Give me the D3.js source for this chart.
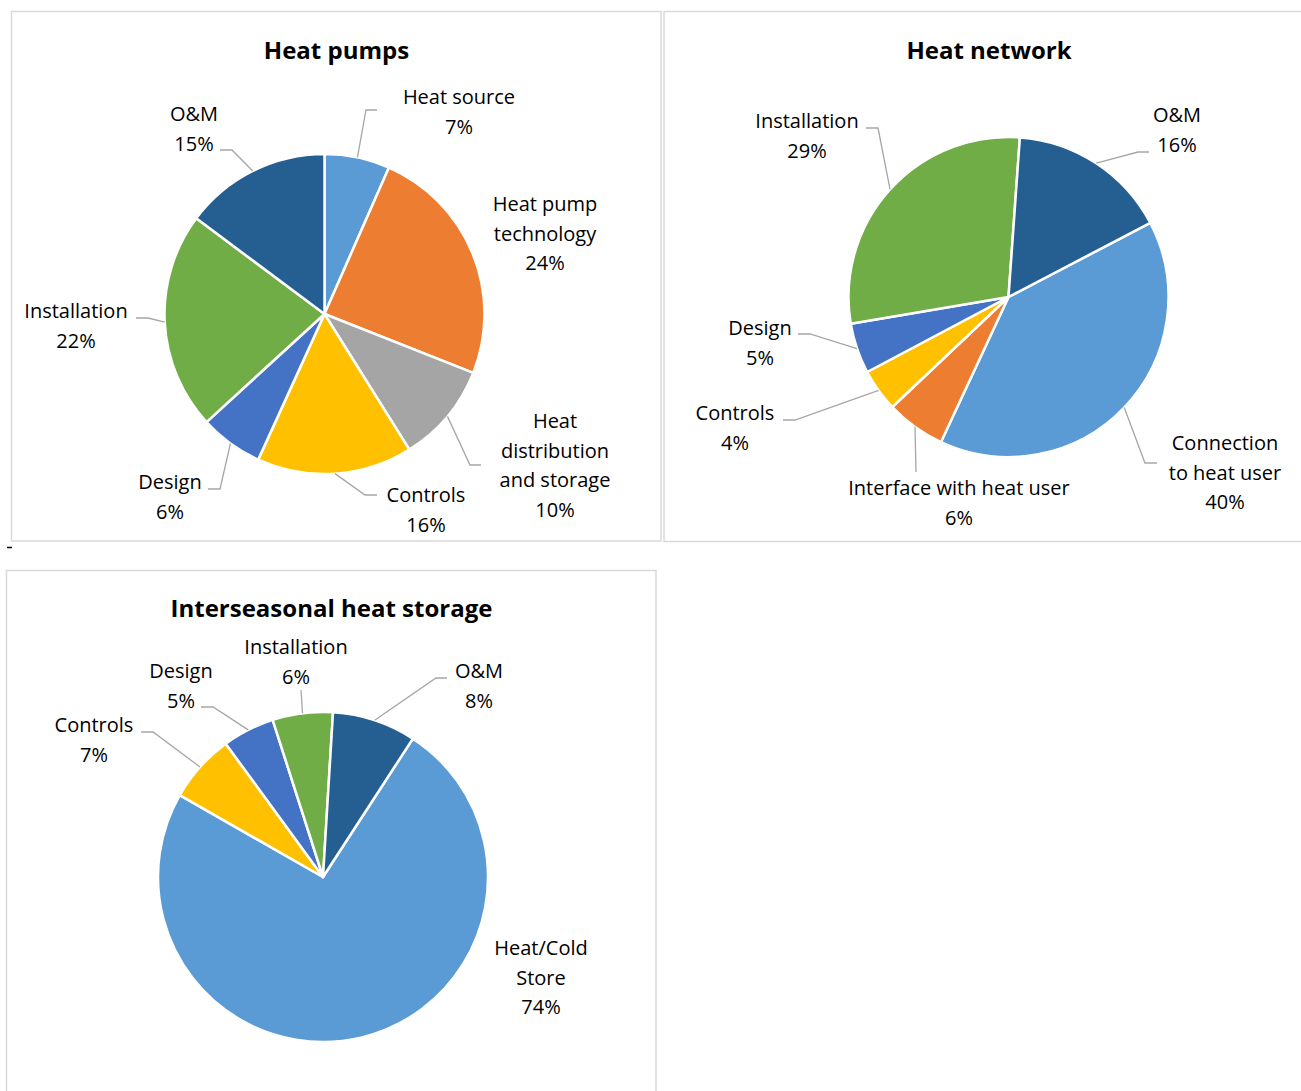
<!DOCTYPE html>
<html>
<head>
<meta charset="utf-8">
<script src="https://cdn.jsdelivr.net/npm/d3@7"></script>
<style>
  html, body { margin: 0; padding: 0; background: #fff; }
  svg { display: block; }
  text { font-family: "Open Sans", "Noto Sans", sans-serif; fill: #000; }
</style>
</head>
<body>
<svg id="chart" width="1301" height="1091"></svg>
<script>
// ---------------- DATA ----------------
const hpTitle = "Heat pumps";
const hpCategories = ["Heat source", "Heat pump technology", "Heat distribution and storage", "Controls", "Design", "Installation", "O&M"];
const hpValues = [6.6, 24.4, 10.1, 15.7, 6.4, 22.0, 14.8];

const hnTitle = "Heat network";
const hnCategories = ["Connection to heat user", "Interface with heat user", "Controls", "Design", "Installation", "O&M"];
const hnValues = [39.6, 6.0, 4.3, 5.1, 28.8, 16.2];

const isTitle = "Interseasonal heat storage";
const isCategories = ["Heat/Cold Store", "Controls", "Design", "Installation", "O&M"];
const isValues = [74.1, 6.7, 5.1, 5.9, 8.2];

// ---------------- STYLES ----------------
const colorByCategory = {
  "Heat source": "#5B9BD5",
  "Connection to heat user": "#5B9BD5",
  "Heat/Cold Store": "#5B9BD5",
  "Heat pump technology": "#ED7D31",
  "Interface with heat user": "#ED7D31",
  "Heat distribution and storage": "#A5A5A5",
  "Controls": "#FFC000",
  "Design": "#4472C4",
  "Installation": "#70AD47",
  "O&M": "#255E91"
};

// ---------------- LAYOUT ----------------
// label: centre of first text line relative to pie centre; leader: stub points relative to pie centre
const charts = [
  {
    title: hpTitle, categories: hpCategories, values: hpValues,
    panel: {x: 11.5, y: 11.5, w: 649.5, h: 529.5},
    titleX: 336.5, titleY: 51, cx: 324.5, cy: 314, r: 160, startDeg: 0,
    labels: {
      "Heat source": {x: 134.5, y: -217, lead: [[52.5, -204], [41.5, -204]]},
      "Heat pump technology": {x: 220.5, y: -110, wrap: ["Heat pump", "technology"]},
      "Heat distribution and storage": {x: 230.5, y: 107, wrap: ["Heat", "distribution", "and storage"], lead: [[156.5, 151], [145.5, 151]]},
      "Controls": {x: 101.5, y: 181, lead: [[52.5, 181], [40.5, 181]]},
      "Design": {x: -154.5, y: 168, lead: [[-116.5, 175], [-104.5, 175]]},
      "Installation": {x: -248.5, y: -3, lead: [[-188.5, 4], [-176.5, 4]]},
      "O&M": {x: -130.5, y: -200, lead: [[-104.5, -164], [-92.5, -164]]}
    }
  },
  {
    title: hnTitle, categories: hnCategories, values: hnValues,
    panel: {x: 664, y: 11.5, w: 660, h: 530},
    titleX: 989, titleY: 51, cx: 1008.5, cy: 297, r: 160, startDeg: 62.4,
    labels: {
      "Connection to heat user": {x: 216.5, y: 146, wrap: ["Connection", "to heat user"], lead: [[148.5, 166], [136.5, 166]]},
      "Interface with heat user": {x: -49.5, y: 191, lead: [[-92.5, 175]]},
      "Controls": {x: -273.5, y: 116, lead: [[-225.5, 123], [-213.5, 123]]},
      "Design": {x: -248.5, y: 31, lead: [[-210.5, 37], [-198.5, 37]]},
      "Installation": {x: -201.5, y: -176, lead: [[-142.5, -169], [-130.5, -169]]},
      "O&M": {x: 168.5, y: -182, lead: [[140.5, -145], [129.5, -145]]}
    }
  },
  {
    title: isTitle, categories: isCategories, values: isValues,
    panel: {x: 6.5, y: 570.5, w: 649.5, h: 540},
    titleX: 331.5, titleY: 609, cx: 323, cy: 877, r: 165, startDeg: 33,
    labels: {
      "Heat/Cold Store": {x: 218, y: 71, wrap: ["Heat/Cold", "Store"]},
      "Controls": {x: -229, y: -152, lead: [[-182, -145], [-170, -145]]},
      "Design": {x: -142, y: -206, lead: [[-122, -170], [-110, -170]]},
      "Installation": {x: -27, y: -230, lead: [[-22, -187]]},
      "O&M": {x: 156, y: -206, lead: [[124, -199], [113, -199]]}
    }
  }
];

const LINE_H = 29.5;
const svg = d3.select("#chart");

// small stray mark under first panel
svg.append("line").attr("x1", 7).attr("x2", 12).attr("y1", 547.5).attr("y2", 547.5)
  .attr("stroke", "#000").attr("stroke-width", 1.5);

charts.forEach(ch => {
  const p = ch.panel;
  svg.append("rect")
    .attr("x", p.x).attr("y", p.y).attr("width", p.w).attr("height", p.h)
    .attr("fill", "#fff").attr("stroke", "#d9d9d9").attr("stroke-width", 1.5);

  svg.append("text")
    .attr("x", ch.titleX)
    .attr("y", ch.titleY)
    .attr("dy", "0.35em")
    .attr("text-anchor", "middle")
    .attr("font-size", 24).attr("font-weight", 700)
    .text(ch.title);

  const data = ch.categories.map((c, i) => ({category: c, value: ch.values[i]}));
  const start = ch.startDeg * Math.PI / 180;
  const pie = d3.pie().sort(null).value(d => d.value).startAngle(start).endAngle(start + 2 * Math.PI);
  const arcs = pie(data);
  const arc = d3.arc().innerRadius(0).outerRadius(ch.r);

  const g = svg.append("g").attr("transform", `translate(${ch.cx},${ch.cy})`);

  g.selectAll("path.slice").data(arcs).join("path")
    .attr("class", "slice")
    .attr("d", arc)
    .attr("fill", d => colorByCategory[d.data.category])
    .attr("stroke", "#fff").attr("stroke-width", 2.5).attr("stroke-linejoin", "round");

  const total = d3.sum(ch.values);
  arcs.forEach(a => {
    const lab = ch.labels[a.data.category];
    if (!lab) return;
    if (lab.lead) {
      const mid = (a.startAngle + a.endAngle) / 2;
      const edge = [ch.r * Math.sin(mid), -ch.r * Math.cos(mid)];
      const pts = lab.lead.concat([edge]);
      g.append("path")
        .attr("d", d3.line()(pts))
        .attr("fill", "none").attr("stroke", "#a6a6a6").attr("stroke-width", 1.3);
    }
    const lines = (lab.wrap || [a.data.category]).concat([Math.round(a.data.value / total * 100) + "%"]);
    const t = g.append("text").attr("text-anchor", "middle").attr("font-size", 20);
    lines.forEach((ln, i) => {
      t.append("tspan").attr("x", lab.x).attr("y", lab.y + i * LINE_H).attr("dy", "0.35em").text(ln);
    });
  });
});
</script>
</body>
</html>
